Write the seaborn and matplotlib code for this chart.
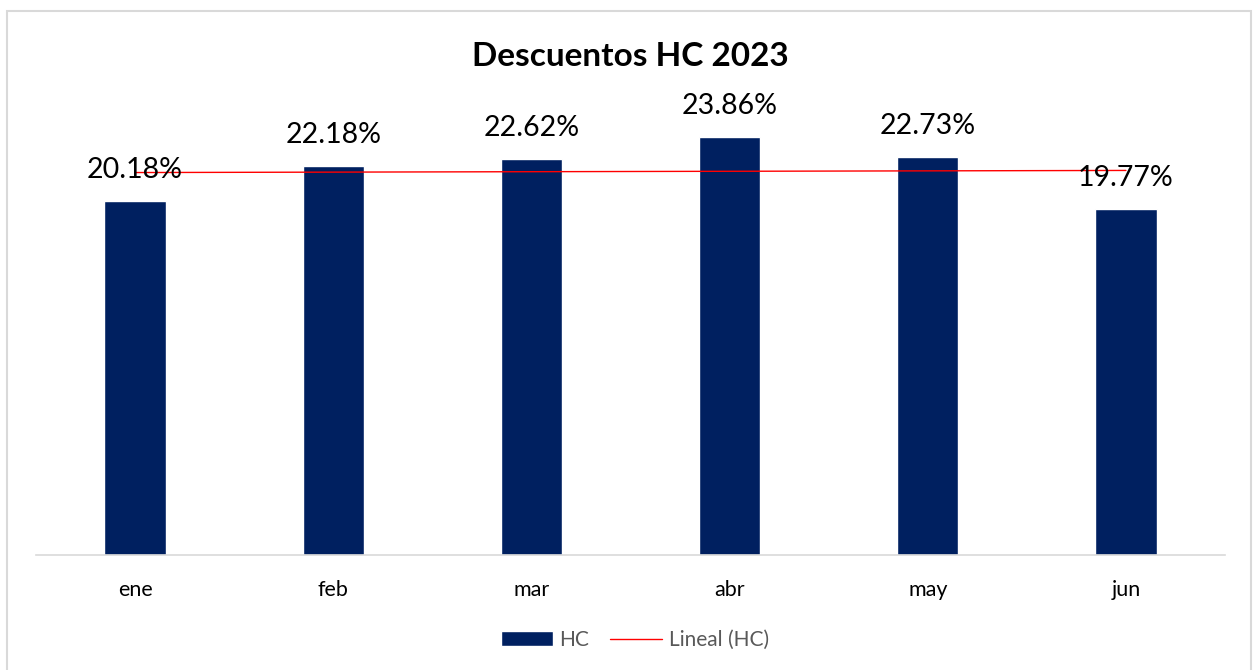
import numpy as np
import pandas as pd
import matplotlib as mpl
import matplotlib.pyplot as plt
import seaborn as sns
from matplotlib.patches import Rectangle, Patch
from matplotlib.lines import Line2D

sns.set_style("white")
plt.rcParams['font.family'] = ['Lato', 'DejaVu Sans']
plt.rcParams['text.color'] = 'black'
plt.rcParams['xtick.color'] = 'black'

meses = ["ene", "feb", "mar", "abr", "may", "jun"]
hc = [20.18, 22.18, 22.62, 23.86, 22.73, 19.77]
titulo = "Descuentos HC 2023"

df = pd.DataFrame({"mes": meses, "HC": hc})

fig = plt.figure(figsize=(12.55, 6.7), dpi=100)
ax = fig.add_axes([0.0287, 0.1716, 0.9474, 0.7806])

sns.barplot(data=df, x="mes", y="HC", color="#002060", saturation=1,
            width=0.31, ax=ax)

# linea de tendencia (regresion lineal)
x = np.arange(len(hc))
m, b = np.polyfit(x, hc, 1)
ax.plot(x, m * x + b, color="#FF0000", lw=1)

for i, v in enumerate(hc):
    ax.annotate(f"{v:.2f}%", (i, v), xytext=(0, 13), textcoords="offset points",
                ha="center", va="bottom", fontsize=20.5, color="black")

ax.set_ylim(0, 29.85)
ax.set_xlim(-0.5, 5.5)
ax.set_yticks([])
ax.set_xlabel("")
ax.set_ylabel("")
ax.tick_params(axis="x", length=0, pad=18, labelsize=15.5, labelcolor="black")
for s in ["top", "right", "left"]:
    ax.spines[s].set_visible(False)
ax.spines["bottom"].set_color("#D9D9D9")
ax.spines["bottom"].set_linewidth(1.2)

fig.text(0.502, 0.915, titulo, ha="center", va="center", fontsize=24,
         fontweight="bold", color="black")

handles = [Patch(facecolor="#002060", label="HC"),
           Line2D([0], [0], color="#FF0000", lw=1, label="Lineal (HC)")]
leg = fig.legend(handles=handles, loc="center", bbox_to_anchor=(0.506, 0.045),
                 ncol=2, frameon=False, fontsize=15, handlelength=2.5,
                 handleheight=0.7, columnspacing=1.0, handletextpad=0.3)
for t in leg.get_texts():
    t.set_color("#595959")

fig.patches.append(Rectangle((0.0056, -0.01), 0.9912, 0.9936, transform=fig.transFigure,
                             fill=False, edgecolor="#D9D9D9", lw=1.5))

plt.savefig("out.png", dpi=100)
